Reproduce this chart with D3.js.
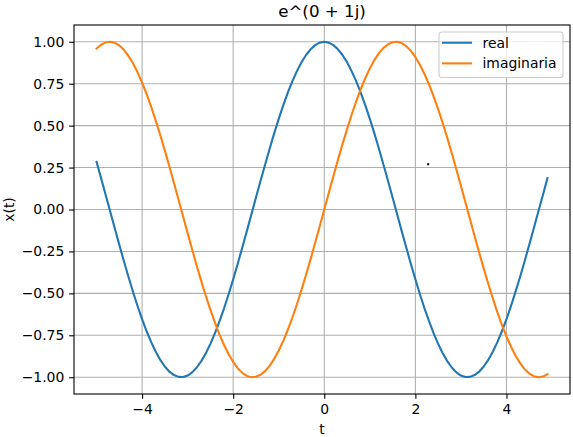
<!DOCTYPE html>
<html>
<head>
<meta charset="utf-8">
<script src="https://cdn.jsdelivr.net/npm/d3@7"></script>
<style>
    body { margin: 0; background: #fff; }
    text { font-family: "DejaVu Sans", sans-serif; }
</style>
</head>
<body>
<div id="chart"></div>
<script>
const tValues = [
    -5.0, -4.9, -4.8, -4.7, -4.6, -4.5, -4.4, -4.3, -4.2, -4.1,
    -4.0, -3.9, -3.8, -3.7, -3.6, -3.5, -3.4, -3.3, -3.2, -3.1,
    -3.0, -2.9, -2.8, -2.7, -2.6, -2.5, -2.4, -2.3, -2.2, -2.1,
    -2.0, -1.9, -1.8, -1.7, -1.6, -1.5, -1.4, -1.3, -1.2, -1.1,
    -1.0, -0.9, -0.8, -0.7, -0.6, -0.5, -0.4, -0.3, -0.2, -0.1,
    0.0, 0.1, 0.2, 0.3, 0.4, 0.5, 0.6, 0.7, 0.8, 0.9,
    1.0, 1.1, 1.2, 1.3, 1.4, 1.5, 1.6, 1.7, 1.8, 1.9,
    2.0, 2.1, 2.2, 2.3, 2.4, 2.5, 2.6, 2.7, 2.8, 2.9,
    3.0, 3.1, 3.2, 3.3, 3.4, 3.5, 3.6, 3.7, 3.8, 3.9,
    4.0, 4.1, 4.2, 4.3, 4.4, 4.5, 4.6, 4.7, 4.8, 4.9
];

const realValues = [
    0.284, 0.187, 0.087, -0.012, -0.112, -0.211, -0.307, -0.401, -0.490, -0.575,
    -0.654, -0.726, -0.791, -0.848, -0.897, -0.936, -0.967, -0.987, -0.998, -0.999,
    -0.990, -0.971, -0.942, -0.904, -0.857, -0.801, -0.737, -0.666, -0.589, -0.505,
    -0.416, -0.323, -0.227, -0.129, -0.029, 0.071, 0.170, 0.267, 0.362, 0.454,
    0.540, 0.622, 0.697, 0.765, 0.825, 0.878, 0.921, 0.955, 0.980, 0.995,
    1.000, 0.995, 0.980, 0.955, 0.921, 0.878, 0.825, 0.765, 0.697, 0.622,
    0.540, 0.454, 0.362, 0.267, 0.170, 0.071, -0.029, -0.129, -0.227, -0.323,
    -0.416, -0.505, -0.589, -0.666, -0.737, -0.801, -0.857, -0.904, -0.942, -0.971,
    -0.990, -0.999, -0.998, -0.987, -0.967, -0.936, -0.897, -0.848, -0.791, -0.726,
    -0.654, -0.575, -0.490, -0.401, -0.307, -0.211, -0.112, -0.012, 0.087, 0.187
];

const imagValues = [
    0.959, 0.982, 0.996, 1.000, 0.994, 0.978, 0.952, 0.916, 0.872, 0.818,
    0.757, 0.688, 0.612, 0.530, 0.443, 0.351, 0.256, 0.158, 0.058, -0.042,
    -0.141, -0.239, -0.335, -0.427, -0.516, -0.598, -0.675, -0.746, -0.808, -0.863,
    -0.909, -0.946, -0.974, -0.992, -1.000, -0.997, -0.985, -0.964, -0.932, -0.891,
    -0.841, -0.783, -0.717, -0.644, -0.565, -0.479, -0.389, -0.296, -0.199, -0.100,
    0.000, 0.100, 0.199, 0.296, 0.389, 0.479, 0.565, 0.644, 0.717, 0.783,
    0.841, 0.891, 0.932, 0.964, 0.985, 0.997, 1.000, 0.992, 0.974, 0.946,
    0.909, 0.863, 0.808, 0.746, 0.675, 0.598, 0.516, 0.427, 0.335, 0.239,
    0.141, 0.042, -0.058, -0.158, -0.256, -0.351, -0.443, -0.530, -0.612, -0.688,
    -0.757, -0.818, -0.872, -0.916, -0.952, -0.978, -0.994, -1.000, -0.996, -0.982
];

const xTicks = [-4, -2, 0, 2, 4];
const yTicks = [-1.00, -0.75, -0.50, -0.25, 0.00, 0.25, 0.50, 0.75, 1.00];
const seriesNames = ["real", "imaginaria"];
const strayDot = [{ t: 2.28, v: 0.27 }];

const drawChart = function(){
    const margin = { top: 25, right: 3, bottom: 43, left: 74 };
    const totalWidth = 573;
    const totalHeight = 437;
    const width = totalWidth - margin.left - margin.right;
    const height = totalHeight - margin.top - margin.bottom;
    const colors = ["#1f77b4", "#ff7f0e"];
    const minus = s => s.replace("-", "\u2212");

    const svg = d3.select("#chart")
        .append("svg")
        .attr("width", totalWidth)
        .attr("height", totalHeight);

    const g = svg.append("g")
        .attr("transform", `translate(${margin.left},${margin.top})`);

    const tMin = d3.min(tValues), tMax = d3.max(tValues);
    const tPad = (tMax - tMin) * 0.05;
    const xScale = d3.scaleLinear()
        .domain([tMin - tPad, tMax + tPad])
        .range([0, width]);

    const yScale = d3.scaleLinear()
        .domain([-1.1, 1.1])
        .range([height, 0]);

    // grid
    g.append("g")
        .selectAll("line")
        .data(xTicks)
        .enter()
        .append("line")
        .attr("x1", d => xScale(d))
        .attr("x2", d => xScale(d))
        .attr("y1", 0)
        .attr("y2", height)
        .attr("stroke", "#b0b0b0")
        .attr("stroke-width", 1.1);

    g.append("g")
        .selectAll("line")
        .data(yTicks)
        .enter()
        .append("line")
        .attr("x1", 0)
        .attr("x2", width)
        .attr("y1", d => yScale(d))
        .attr("y2", d => yScale(d))
        .attr("stroke", "#b0b0b0")
        .attr("stroke-width", 1.1);

    // lines
    const series = [realValues, imagValues];
    series.forEach((vals, i) => {
        const line = d3.line()
            .x((d, j) => xScale(tValues[j]))
            .y(d => yScale(d));
        g.append("path")
            .datum(vals)
            .attr("fill", "none")
            .attr("stroke", colors[i])
            .attr("stroke-width", 2.08)
            .attr("stroke-linejoin", "round")
            .attr("stroke-linecap", "square")
            .attr("d", line);
    });

    g.selectAll(".stray")
        .data(strayDot)
        .enter()
        .append("rect")
        .attr("class", "stray")
        .attr("x", d => xScale(d.t) - 1)
        .attr("y", d => yScale(d.v) - 1)
        .attr("width", 2)
        .attr("height", 2)
        .attr("fill", "#000");

    // axes
    const xAxis = g.append("g")
        .attr("transform", `translate(0, ${height})`)
        .call(d3.axisBottom(xScale).tickValues(xTicks).tickSize(4.86).tickPadding(4.9).tickFormat(d => minus(String(d))));
    const yAxis = g.append("g")
        .call(d3.axisLeft(yScale).tickValues(yTicks).tickSize(4.86).tickPadding(4.9).tickFormat(d => minus(d.toFixed(2))));

    [xAxis, yAxis].forEach(ax => {
        ax.select(".domain").remove();
        ax.selectAll("line").attr("stroke", "#000").attr("stroke-width", 1.1);
        ax.selectAll("text")
            .attr("fill", "#000")
            .style("font-size", "13.9px")
            .style("font-family", "DejaVu Sans");
    });

    g.append("rect")
        .attr("width", width)
        .attr("height", height)
        .attr("fill", "none")
        .attr("stroke", "#000")
        .attr("stroke-width", 1.1);

    // labels
    g.append("text")
        .attr("x", width / 2)
        .attr("y", -8.3)
        .style("text-anchor", "middle")
        .style("font-size", "16.7px")
        .text("e^(0 + 1j)");

    g.append("text")
        .attr("x", width / 2)
        .attr("y", height + 40)
        .style("text-anchor", "middle")
        .style("font-size", "13.9px")
        .text("t");

    g.append("text")
        .attr("transform", "rotate(-90)")
        .attr("x", -height / 2)
        .attr("y", -margin.left + 14)
        .style("text-anchor", "middle")
        .style("font-size", "13.9px")
        .text("x(t)");

    // legend
    const legend = g.append("g")
        .attr("transform", `translate(${width - 131}, 7)`);
    legend.append("rect")
        .attr("width", 124)
        .attr("height", 45.5)
        .attr("rx", 2.8)
        .attr("fill", "#fff")
        .attr("fill-opacity", 0.8)
        .attr("stroke", "#cccccc")
        .attr("stroke-width", 1.1);

    seriesNames.forEach((name, i) => {
        const y = 10.7 + i * 20.7;
        legend.append("line")
            .attr("x1", 3)
            .attr("x2", 33)
            .attr("y1", y)
            .attr("y2", y)
            .attr("stroke", colors[i])
            .attr("stroke-width", 2.08);
        legend.append("text")
            .attr("x", 43.5)
            .attr("y", y)
            .attr("dy", "0.35em")
            .style("font-size", "13.9px")
            .text(name);
    });
}

window.onload = function(){
    drawChart();
}
</script>
</body>
</html>
